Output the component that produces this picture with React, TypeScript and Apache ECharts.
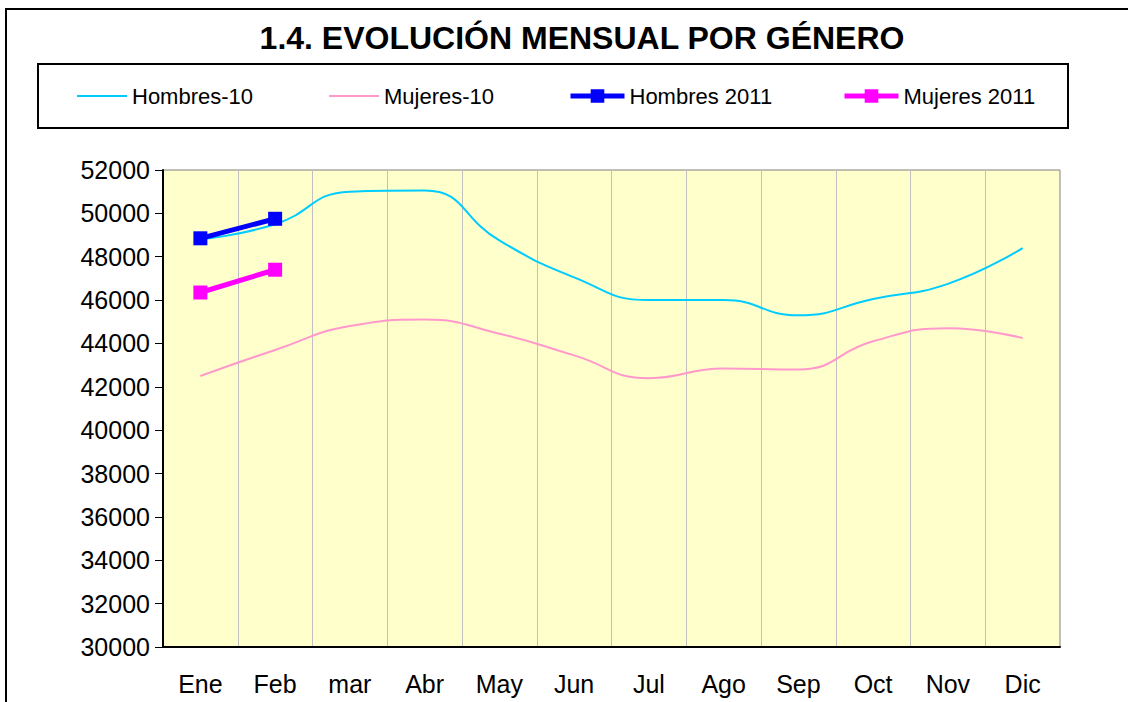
import React, { useEffect, useRef } from "react";
import * as echarts from "echarts";

const categories = ["Ene", "Feb", "mar", "Abr", "May", "Jun", "Jul", "Ago", "Sep", "Oct", "Nov", "Dic"];
const hombres10 = [48800, 49500, 51000, 51050, 48750, 47050, 46000, 46000, 45300, 46050, 46750, 48400];
const mujeres10 = [42500, 43700, 44800, 45100, 44450, 43450, 42400, 42850, 42800, 44100, 44700, 44250];
const hombres2011 = [48850, 49750, null, null, null, null, null, null, null, null, null, null];
const mujeres2011 = [46350, 47400, null, null, null, null, null, null, null, null, null, null];
const seriesNames = ["Hombres-10", "Mujeres-10", "Hombres 2011", "Mujeres 2011"];
const titleText = "1.4. EVOLUCIÓN MENSUAL POR GÉNERO";

const FONT = "'Liberation Sans', Arial, sans-serif";

export default function App() {
  const ref = useRef<HTMLDivElement>(null);
  useEffect(() => {
    if (!ref.current) return;
    const chart = echarts.init(ref.current, undefined, { renderer: "svg" });
    const legendBase = (name: string, left: number, w: number, lw: number, hideSymbol: boolean) => ({
      data: [name],
      left,
      top: 85,
      itemWidth: w,
      itemHeight: 17,
      itemGap: 0,
      padding: 0,
      lineStyle: { width: lw },
      itemStyle: hideSymbol ? { opacity: 0 } : {},
      textStyle: { fontSize: 22, fontFamily: FONT, color: "#000" },
    });
    chart.setOption({
      animation: false,
      backgroundColor: "#fff",
      textStyle: { fontFamily: FONT },
      graphic: [
        {
          type: "rect",
          shape: { x: 6, y: 9, width: 1300, height: 900 },
          style: { fill: "none", stroke: "#000", lineWidth: 2 },
          silent: true,
        },
        {
          type: "rect",
          shape: { x: 38, y: 64, width: 1030, height: 64 },
          style: { fill: "none", stroke: "#000", lineWidth: 2 },
          silent: true,
        },
        {
          type: "text",
          x: 582,
          y: 38,
          style: {
            text: titleText,
            font: `bold 32px ${FONT}`,
            fill: "#000",
            align: "center",
            verticalAlign: "middle",
          },
        },
      ],
      legend: [
        legendBase(seriesNames[0], 76, 50, 2, true),
        legendBase(seriesNames[1], 328, 50, 2, true),
        legendBase(seriesNames[2], 568, 54, 5, false),
        legendBase(seriesNames[3], 842, 54, 5, false),
      ],
      grid: {
        left: 163,
        right: 68,
        top: 170,
        bottom: 55,
        show: true,
        backgroundColor: "#FFFFCC",
        borderColor: "#808080",
        borderWidth: 1,
      },
      xAxis: {
        type: "category",
        data: categories,
        boundaryGap: true,
        axisLine: { show: true, lineStyle: { color: "#000", width: 2 } },
        axisTick: { show: false },
        axisLabel: { fontSize: 25, color: "#000", fontFamily: FONT, margin: 24 },
        splitLine: { show: true, lineStyle: { color: "#C0C0C0", width: 1 } },
      },
      yAxis: {
        type: "value",
        min: 30000,
        max: 52000,
        interval: 2000,
        axisLine: { show: true, lineStyle: { color: "#000", width: 2 } },
        axisTick: { show: true, length: 8, lineStyle: { color: "#000", width: 1 } },
        axisLabel: {
          fontSize: 25,
          color: "#000",
          fontFamily: FONT,
          margin: 13,
          formatter: (v: number) => String(v),
        },
        splitLine: { show: false },
      },
      series: [
        {
          name: seriesNames[0],
          type: "line",
          data: hombres10,
          smooth: 0.5,
          symbol: "none",
          lineStyle: { color: "#00CCFF", width: 2 },
          itemStyle: { color: "#00CCFF" },
        },
        {
          name: seriesNames[1],
          type: "line",
          data: mujeres10,
          smooth: 0.5,
          symbol: "none",
          lineStyle: { color: "#FF99CC", width: 2 },
          itemStyle: { color: "#FF99CC" },
        },
        {
          name: seriesNames[2],
          type: "line",
          data: hombres2011,
          symbol: "rect",
          symbolSize: 14,
          lineStyle: { color: "#0000FF", width: 5 },
          itemStyle: { color: "#0000FF" },
          z: 5,
        },
        {
          name: seriesNames[3],
          type: "line",
          data: mujeres2011,
          symbol: "rect",
          symbolSize: 14,
          lineStyle: { color: "#FF00FF", width: 5 },
          itemStyle: { color: "#FF00FF" },
          z: 5,
        },
      ],
    });
    return () => chart.dispose();
  }, []);
  return (
    <div
      ref={ref}
      style={{ position: "fixed", left: 0, top: 0, width: 1128, height: 702 }}
    />
  );
}
